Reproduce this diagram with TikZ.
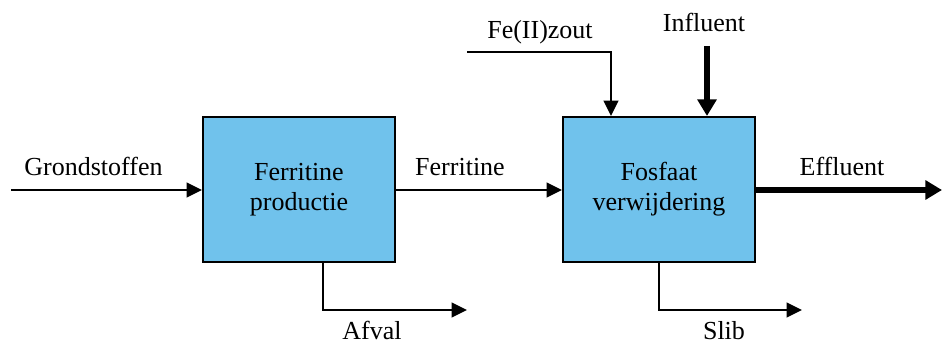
\documentclass[tikz,border=0pt]{standalone}
\usepackage{fontspec}
\setmainfont{Liberation Serif}
\usetikzlibrary{arrows.meta}
\definecolor{procblue}{RGB}{112,194,236}
\begin{document}
\begin{tikzpicture}[x=0.75pt,y=-0.75pt,
  every node/.style={font=\fontsize{19.5}{22.5}\selectfont, inner sep=0pt},
  process/.style={draw=black, line width=1.5pt, fill=procblue, minimum width=144pt, minimum height=108.75pt, align=center},
  flow/.style={line width=1.5pt, -{Triangle[length=11.5pt,width=11pt]}},
  mainflow/.style={line width=4.8pt, -{Triangle[length=12.5pt,width=14pt]}},
  lbl/.style={anchor=base}]
\useasboundingbox (0,0) rectangle (942,345);

% process blocks
\node[process] (prod) at (299,189.5) {Ferritine\\productie};
\node[process] (fosf) at (659,189.5) {Fosfaat\\verwijdering};

% free ends of the streams
\coordinate (in0) at (11,190);
\coordinate (fe0) at (467,52);
\coordinate (fe1) at (611,52);
\coordinate (inf0) at (707,46);
\coordinate (eff1) at (942,190);
\coordinate (af0) at (323,310);
\coordinate (af1) at (467,310);
\coordinate (sl0) at (659,310);
\coordinate (sl1) at (802,310);

% streams
\draw[flow] (in0) -- (in0 -| prod.west);
\draw[flow] (prod.east |- in0) -- (fosf.west |- in0);
\draw[flow] (fe0) -- (fe1) -- (fe1 |- fosf.north);
\draw[mainflow] (inf0) -- (inf0 |- fosf.north);
\draw[mainflow] (fosf.east |- eff1) -- (eff1);
\draw[flow] (af0 |- prod.south) -- (af0) -- (af1);
\draw[flow] (sl0 |- fosf.south) -- (sl0) -- (sl1);

% stream labels
\node[lbl] (tin) at (93.5,176) {Grondstoffen};
\node[lbl] (tfer) at (460,176) {Ferritine};
\node[lbl] (tfe) at (540,39) {Fe(II)zout};
\node[lbl] (tinf) at (704,32) {Influent};
\node[lbl] (teff) at (842,176) {Effluent};
\node[lbl] (taf) at (372,339) {Afval};
\node[lbl] (tsl) at (724,339) {Slib};
\end{tikzpicture}
\end{document}
